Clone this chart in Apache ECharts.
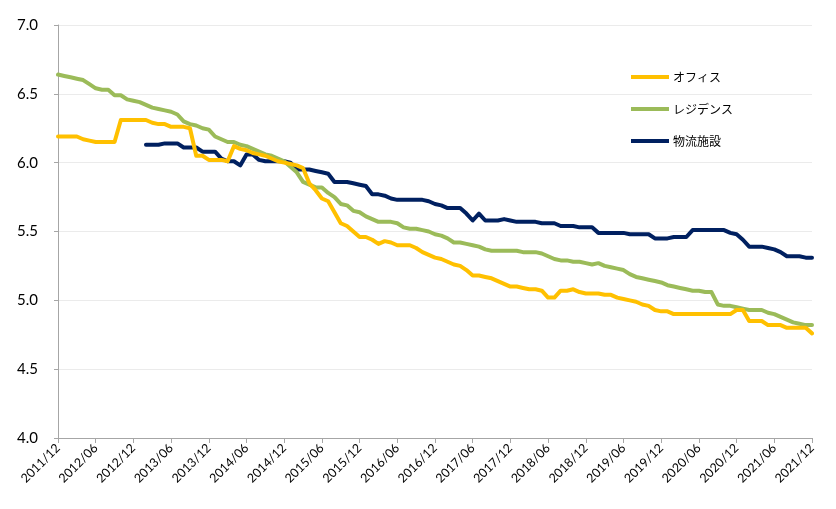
<!DOCTYPE html>
<html>
<head>
<meta charset="utf-8">
<script src="https://cdn.jsdelivr.net/npm/echarts@6/dist/echarts.min.js"></script>
<style>
  html, body { margin: 0; padding: 0; background: #fff; }
  #chart { width: 836px; height: 509px; }
</style>
</head>
<body>
<div id="chart"></div>
<script>
// Monthly cap rates (%), 2011/12 – 2021/12
const startYear = 2011;
const startMonth = 12;
const monthCount = 121;

const seriesNames = ['オフィス', 'レジデンス', '物流施設'];
const seriesColors = ['#FFC000', '#9BBB59', '#002060'];

const office = [
  6.19, 6.19, 6.19, 6.19, 6.17, 6.16, 6.15, 6.15, 6.15, 6.15,
  6.31, 6.31, 6.31, 6.31, 6.31, 6.29, 6.28, 6.28, 6.26, 6.26,
  6.26, 6.25, 6.05, 6.05, 6.02, 6.02, 6.02, 6.01, 6.12, 6.10,
  6.09, 6.07, 6.06, 6.05, 6.03, 6.01, 6.00, 5.99, 5.98, 5.96,
  5.85, 5.80, 5.74, 5.72, 5.64, 5.56, 5.54, 5.50, 5.46, 5.46,
  5.44, 5.41, 5.43, 5.42, 5.40, 5.40, 5.40, 5.38, 5.35, 5.33,
  5.31, 5.30, 5.28, 5.26, 5.25, 5.22, 5.18, 5.18, 5.17, 5.16,
  5.14, 5.12, 5.10, 5.10, 5.09, 5.08, 5.08, 5.07, 5.02, 5.02,
  5.07, 5.07, 5.08, 5.06, 5.05, 5.05, 5.05, 5.04, 5.04, 5.02,
  5.01, 5.00, 4.99, 4.97, 4.96, 4.93, 4.92, 4.92, 4.90, 4.90,
  4.90, 4.90, 4.90, 4.90, 4.90, 4.90, 4.90, 4.90, 4.93, 4.93,
  4.85, 4.85, 4.85, 4.82, 4.82, 4.82, 4.80, 4.80, 4.80, 4.80,
  4.76
];

const residence = [
  6.64, 6.63, 6.62, 6.61, 6.60, 6.57, 6.54, 6.53, 6.53, 6.49,
  6.49, 6.46, 6.45, 6.44, 6.42, 6.40, 6.39, 6.38, 6.37, 6.35,
  6.30, 6.28, 6.27, 6.25, 6.24, 6.19, 6.17, 6.15, 6.15, 6.13,
  6.12, 6.10, 6.08, 6.06, 6.05, 6.03, 6.01, 5.97, 5.93, 5.86,
  5.84, 5.82, 5.82, 5.78, 5.75, 5.70, 5.69, 5.65, 5.64, 5.61,
  5.59, 5.57, 5.57, 5.57, 5.56, 5.53, 5.52, 5.52, 5.51, 5.50,
  5.48, 5.47, 5.45, 5.42, 5.42, 5.41, 5.40, 5.39, 5.37, 5.36,
  5.36, 5.36, 5.36, 5.36, 5.35, 5.35, 5.35, 5.34, 5.32, 5.30,
  5.29, 5.29, 5.28, 5.28, 5.27, 5.26, 5.27, 5.25, 5.24, 5.23,
  5.22, 5.19, 5.17, 5.16, 5.15, 5.14, 5.13, 5.11, 5.10, 5.09,
  5.08, 5.07, 5.07, 5.06, 5.06, 4.97, 4.96, 4.96, 4.95, 4.94,
  4.93, 4.93, 4.93, 4.91, 4.90, 4.88, 4.86, 4.84, 4.83, 4.82,
  4.82
];

const logistics = [
  null, null, null, null, null, null, null, null, null, null,
  null, null, null, null, 6.13, 6.13, 6.13, 6.14, 6.14, 6.14,
  6.11, 6.11, 6.11, 6.08, 6.08, 6.08, 6.03, 6.01, 6.01, 5.98,
  6.06, 6.06, 6.02, 6.01, 6.01, 6.01, 6.01, 6.00, 5.95, 5.95,
  5.95, 5.94, 5.93, 5.92, 5.86, 5.86, 5.86, 5.85, 5.84, 5.83,
  5.77, 5.77, 5.76, 5.74, 5.73, 5.73, 5.73, 5.73, 5.73, 5.72,
  5.70, 5.69, 5.67, 5.67, 5.67, 5.63, 5.58, 5.63, 5.58, 5.58,
  5.58, 5.59, 5.58, 5.57, 5.57, 5.57, 5.57, 5.56, 5.56, 5.56,
  5.54, 5.54, 5.54, 5.53, 5.53, 5.53, 5.49, 5.49, 5.49, 5.49,
  5.49, 5.48, 5.48, 5.48, 5.48, 5.45, 5.45, 5.45, 5.46, 5.46,
  5.46, 5.51, 5.51, 5.51, 5.51, 5.51, 5.51, 5.49, 5.48, 5.44,
  5.39, 5.39, 5.39, 5.38, 5.37, 5.35, 5.32, 5.32, 5.32, 5.31,
  5.31
];

const yMin = 4.0;
const yMax = 7.0;
const yStep = 0.5;

// Month labels "YYYY/MM"
const months = [];
for (let k = 0; k < monthCount; k++) {
  const m0 = startMonth - 1 + k;
  const y = startYear + Math.floor(m0 / 12);
  const m = (m0 % 12) + 1;
  months.push(y + '/' + String(m).padStart(2, '0'));
}

const chart = echarts.init(document.getElementById('chart'), null, { renderer: 'canvas' });

const values = [office, residence, logistics];

chart.setOption({
  animation: false,
  backgroundColor: '#ffffff',
  grid: { left: 58, right: 24, top: 25, bottom: 71, containLabel: false },
  legend: {
    orient: 'vertical',
    left: 626,
    top: 66,
    itemWidth: 38,
    itemHeight: 4,
    itemGap: 20,
    icon: 'rect',
    textStyle: { fontFamily: '"Noto Sans CJK JP"', fontSize: 12, color: '#000', padding: [0, 0, 0, -1] },
    data: seriesNames
  },
  xAxis: {
    type: 'category',
    boundaryGap: false,
    data: months,
    axisLine: { lineStyle: { color: '#a6a6a6', width: 1 } },
    axisTick: { show: true, interval: 5, length: 5, lineStyle: { color: '#a6a6a6' } },
    axisLabel: {
      interval: 5,
      rotate: 45,
      margin: 8,
      fontFamily: 'Lato',
      fontSize: 12.5,
      color: '#000'
    },
    splitLine: { show: false }
  },
  yAxis: {
    type: 'value',
    min: yMin,
    max: yMax,
    interval: yStep,
    axisLine: { show: true, lineStyle: { color: '#a6a6a6', width: 1 } },
    axisTick: { show: true, length: 4, lineStyle: { color: '#a6a6a6' } },
    axisLabel: {
      margin: 20,
      fontFamily: 'Lato',
      fontSize: 15,
      color: '#000',
      formatter: v => v.toFixed(1)
    },
    splitLine: { show: true, lineStyle: { color: '#ebebeb', width: 1 } }
  },
  series: seriesNames.map((name, s) => ({
    name,
    type: 'line',
    data: values[s],
    showSymbol: false,
    symbol: 'none',
    connectNulls: false,
    lineStyle: { color: seriesColors[s], width: 4, cap: 'round', join: 'round' },
    itemStyle: { color: seriesColors[s] },
    z: 3 - s
  }))
});
</script>
</body>
</html>
